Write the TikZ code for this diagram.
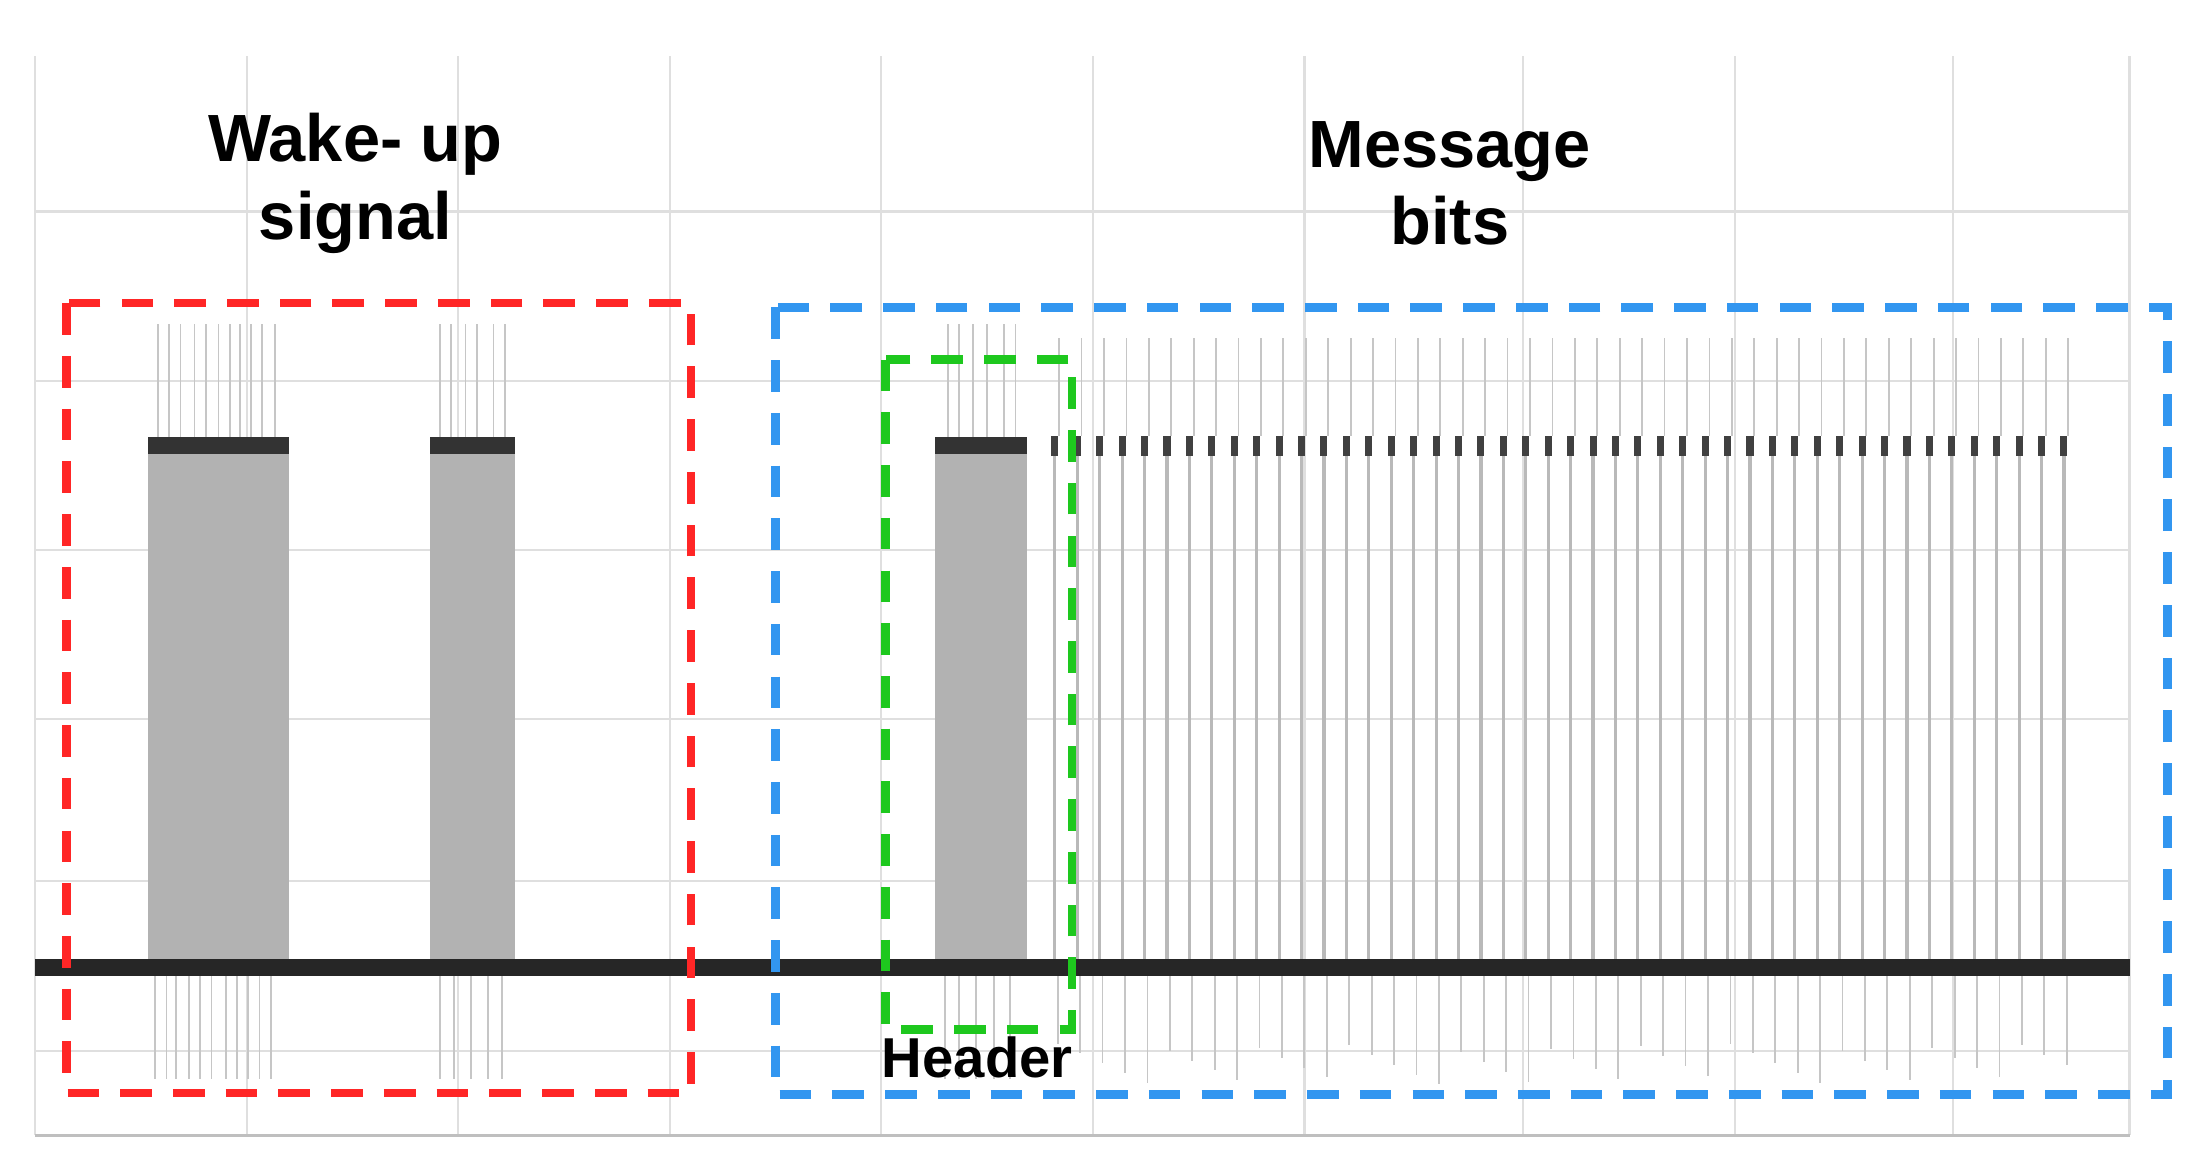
\documentclass[tikz,border=0pt]{standalone}
\usepackage{fontspec}
\setmainfont{Liberation Sans}
\usetikzlibrary{positioning}
\begin{document}
\begin{tikzpicture}[x=0.014103cm, y=-0.014103cm, thick]
\tikzstyle{grid}=[draw=gray!25, line width=0.6pt]
\tikzstyle{burst}=[fill=gray!60, draw=none]
\tikzstyle{bit}=[draw=gray!55, line width=0.9pt]
\tikzstyle{spike}=[draw=gray!45, line width=0.5pt]
\tikzstyle{label}=[font=\bfseries\fontsize{19}{22}\selectfont, align=center]
\tikzstyle{frame}=[dashed, line width=2.4pt, dash pattern=on 9pt off 6pt]
\useasboundingbox (0,0) rectangle (1560,830);
% grid
\foreach \x in {25,175,325,475,625,775,925,1080,1230,1385,1510}
  \draw[grid] (\x,40) -- (\x,805);
\foreach \y in {150,270,390,510,625,745}
  \draw[grid] (25,\y) -- (1510,\y);
\draw[gray!50, line width=1pt] (25,805) -- (1510,805);
% wake-up bursts and header burst
\foreach \a/\b in {105/205, 305/365, 663/728} {
  \fill[burst] (\a,315) rectangle (\b,686);
  \fill[black!80] (\a,310) rectangle (\b,322);
}
\foreach \x in {112,120,128,138,146,155,163,170,178,186,195,312,320,330,338,350,358,672,680,690,700,712,720}
  \draw[spike] (\x,230) -- (\x,310);
\foreach \x in {110,118,125,134,142,150,160,168,176,184,192,312,322,334,346,356,670,680,692,705,716}
  \draw[spike] (\x,686) -- (\x,765);
% message bits
\foreach \i in {0,...,45} {
  \pgfmathsetmacro{\xb}{748+\i*15.9}
  \draw[bit] (\xb,316) -- (\xb,686);
  \fill[black!75] (\xb-2.5,309) rectangle (\xb+2.5,323);
  \draw[spike] (\xb+3,240) -- (\xb+3,309);
  \pgfmathsetmacro{\yl}{740+mod(\i*37,30)}
  \draw[spike] (\xb+2,686) -- (\xb+2,\yl);
}
% baseline
\draw[black!85, line width=5pt] (25,686) -- (1510,686);
% frames
\draw[frame, red!85] (47,215) rectangle (490,775);
\draw[frame, blue!40!cyan!80!black, draw={rgb,255:red,50;green,150;blue,240}] (550,218) rectangle (1537,776);
\draw[frame, draw={rgb,255:red,30;green,200;blue,30}] (628,255) rectangle (760,730);
% labels
\node[label] (wake) at (252,130) {Wake- up\\signal};
\node[label] (msg) at (1028,130) {Message\\bits};
\node[font=\bfseries\fontsize{16}{18}\selectfont] (header) at (693,750) {Header};
\end{tikzpicture}
\end{document}
